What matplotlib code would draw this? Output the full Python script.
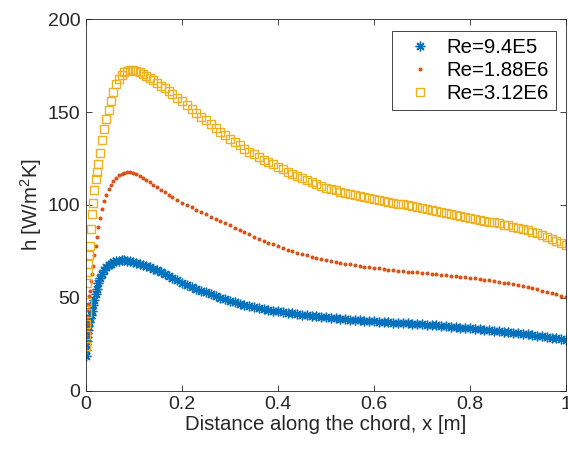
import numpy as np
import matplotlib
matplotlib.use("Agg")
import matplotlib.pyplot as plt

# distance along the chord [m] (same stations for all three runs)
x_pos = [0, 0.0005, 0.001, 0.0015, 0.002, 0.003, 0.004, 0.005, 0.0065, 0.008,
         0.01, 0.012, 0.014, 0.017, 0.02, 0.023, 0.026, 0.03, 0.034, 0.038,
         0.042, 0.047, 0.052, 0.057, 0.062, 0.068, 0.074, 0.08, 0.086, 0.092,
         0.098, 0.105, 0.112, 0.119, 0.126, 0.133, 0.14, 0.148, 0.156, 0.164,
         0.172, 0.18, 0.19, 0.2,
         0.21, 0.22, 0.23, 0.24, 0.25, 0.26, 0.27, 0.28, 0.29, 0.30,
         0.31, 0.32, 0.33, 0.34, 0.35, 0.36, 0.37, 0.38, 0.39, 0.40,
         0.41, 0.42, 0.43, 0.44, 0.45, 0.46, 0.47, 0.48, 0.49, 0.50,
         0.51, 0.52, 0.53, 0.54, 0.55, 0.56, 0.57, 0.58, 0.59, 0.60,
         0.61, 0.62, 0.63, 0.64, 0.65, 0.66, 0.67, 0.68, 0.69, 0.70,
         0.71, 0.72, 0.73, 0.74, 0.75, 0.76, 0.77, 0.78, 0.79, 0.80,
         0.81, 0.82, 0.83, 0.84, 0.85, 0.86, 0.87, 0.88, 0.89, 0.90,
         0.91, 0.92, 0.93, 0.94, 0.95, 0.96, 0.97, 0.98, 0.99, 1.00]

# h [W/m^2K], Re = 9.4E5
h_re1 = [19, 22, 25, 27, 29, 31, 33, 35, 37, 39,
         41, 43, 46, 49, 52, 55, 58, 61, 63, 65,
         66.5, 67.5, 68.5, 69.2, 69.7, 70.1, 70.3, 70.3, 70.1, 69.8,
         69.4, 68.9, 68.4, 67.8, 67.2, 66.5, 65.7, 64.8, 63.8, 62.8,
         61.8, 60.8, 59.5, 58.3,
         57.2, 56.1, 55.0, 54.0, 53.0, 52.1, 51.2, 50.2, 49.3, 48.5,
         47.7, 47.0, 46.3, 45.6, 45.0, 44.5, 44.0, 43.6, 43.2, 42.8,
         42.4, 42.0, 41.7, 41.3, 41.0, 40.7, 40.4, 40.1, 39.8, 39.5,
         39.3, 39.0, 38.8, 38.5, 38.3, 38.1, 37.9, 37.7, 37.6, 37.4,
         37.2, 37.1, 36.9, 36.8, 36.6, 36.4, 36.3, 36.1, 36.0, 35.8,
         35.6, 35.4, 35.2, 35.0, 34.8, 34.6, 34.3, 34.1, 33.8, 33.6,
         33.4, 33.1, 32.9, 32.6, 32.4, 32.1, 31.9, 31.6, 31.4, 31.1,
         30.8, 30.5, 30.2, 29.8, 29.5, 29.1, 28.7, 28.3, 27.8, 27.4]

# Re = 1.88E6
h_re2 = [22, 26, 30, 33, 36, 40, 44, 47, 51, 54,
         59, 63, 67, 73, 78, 83, 88, 93, 98, 102,
         105.5, 108.5, 111, 113, 114.6, 115.9, 116.8, 117.4, 117.7, 117.7,
         117.4, 116.8, 115.8, 114.7, 113.5, 112.2, 110.9, 109.5, 108.1, 106.8,
         105.5, 104.2, 102.7, 101.2,
         100.0, 98.8, 97.5, 96.2, 95.0, 93.8, 92.6, 91.4, 90.2, 89.0,
         87.8, 86.6, 85.4, 84.2, 83.0, 81.9, 80.8, 79.8, 78.8, 77.8,
         76.9, 76.0, 75.2, 74.4, 73.6, 72.9, 72.2, 71.6, 71.0, 70.4,
         69.9, 69.4, 69.0, 68.5, 68.1, 67.7, 67.3, 66.9, 66.6, 66.2,
         65.9, 65.6, 65.3, 65.0, 64.7, 64.5, 64.2, 64.0, 63.7, 63.5,
         63.3, 63.0, 62.8, 62.5, 62.3, 62.0, 61.7, 61.4, 61.1, 60.8,
         60.5, 60.1, 59.8, 59.4, 59.1, 58.7, 58.3, 58.0, 57.6, 57.2,
         56.6, 56.0, 55.3, 54.7, 54.0, 53.3, 52.6, 51.9, 51.2, 50.5]

# Re = 3.12E6
h_re3 = [24, 30, 36, 42, 48, 58, 64, 68, 73, 78,
         87, 95, 101, 108, 114, 118, 122, 128, 135, 141,
         146, 151, 156, 161, 165, 168, 170, 171.5, 172.3, 172.7,
         172.7, 172.3, 171.5, 170.5, 169.6, 168.5, 167.2, 165.8, 164.2, 162.7,
         161.1, 159.6, 157.6, 155.7,
         153.6, 151.5, 149.5, 147.5, 145.5, 143.4, 141.4, 139.4, 137.4, 135.5,
         133.7, 132.0, 130.3, 128.7, 127.2, 125.8, 124.4, 123.1, 121.8, 120.5,
         119.2, 117.9, 116.7, 115.5, 114.3, 113.2, 112.1, 111.1, 110.2, 109.3,
         108.5, 107.8, 107.1, 106.4, 105.8, 105.2, 104.6, 104.1, 103.5, 103.0,
         102.5, 102.0, 101.6, 101.1, 100.7, 100.3, 99.8, 99.4, 98.9, 98.5,
         98.0, 97.4, 96.9, 96.3, 95.7, 95.2, 94.7, 94.1, 93.6, 93.1,
         92.6, 92.1, 91.6, 91.1, 90.6, 90.1, 89.5, 89.0, 88.4, 87.8,
         87.1, 86.4, 85.6, 84.7, 83.8, 82.8, 81.8, 80.7, 79.6, 78.5]

labels = ['Re=9.4E5', 'Re=1.88E6', 'Re=3.12E6']
x_ticks = [0, 0.2, 0.4, 0.6, 0.8, 1.0]
x_ticklabels = ['0', '0.2', '0.4', '0.6', '0.8', '1']
y_ticks = [0, 50, 100, 150, 200]

plt.rcParams['font.family'] = ['Liberation Sans', 'DejaVu Sans']
plt.rcParams['mathtext.default'] = 'regular'

axcol = '#262626'
fig = plt.figure(figsize=(5.68, 4.53), dpi=100)
ax = fig.add_axes([0.1514, 0.137, 0.8451, 0.821])

ax.plot(x_pos, h_re1, linestyle='none', marker=(8, 2, 0), ms=7, mew=1.0,
        color='#0072BD', label=labels[0])
ax.plot(x_pos, h_re2, linestyle='none', marker='.', ms=3.8,
        color='#D95319', label=labels[1])
ax.plot(x_pos, h_re3, linestyle='none', marker='s', ms=5.6, mew=1.0,
        mfc='none', color='#EDB120', label=labels[2])

ax.set_xlim(0, 1)
ax.set_ylim(0, 200)
ax.set_xticks(x_ticks)
ax.set_xticklabels(x_ticklabels)
ax.set_yticks(y_ticks)
ax.tick_params(direction='in', top=True, right=True, length=4, width=0.6,
               color=axcol, labelcolor=axcol, labelsize=14, pad=4)
for s in ax.spines.values():
    s.set_color(axcol)
    s.set_linewidth(0.6)

ax.set_xlabel('Distance along the chord, x [m]', fontsize=14.7, color=axcol, labelpad=1)
ax.set_ylabel('h [W/m$^2$K]', fontsize=14.7, color=axcol, labelpad=3)

leg = ax.legend(loc='upper right', bbox_to_anchor=(0.979, 0.968), borderaxespad=0,
                fancybox=False, edgecolor=axcol, framealpha=1, fontsize=14.7,
                handlelength=2.0, handletextpad=0.3, labelspacing=0.2,
                borderpad=0.35, markerscale=1.0)
leg.get_frame().set_linewidth(0.6)

fig.savefig('out.png', dpi=100)
